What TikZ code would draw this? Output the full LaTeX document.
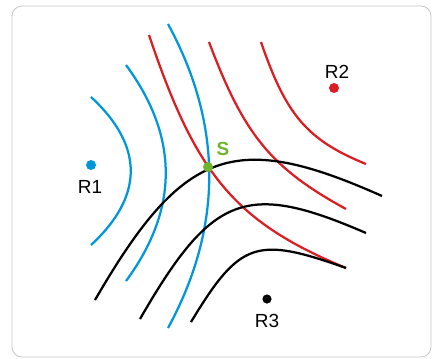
\documentclass[tikz,border=0pt]{standalone}
\usepackage{fontspec}
\setmainfont{Liberation Sans}
\definecolor{lineblue}{RGB}{0,150,220}
\definecolor{linered}{RGB}{220,30,35}
\definecolor{pointgreen}{RGB}{110,182,45}
\begin{document}
\begin{tikzpicture}[x=0.025cm, y=-0.025cm, line width=1.6pt,
  dot/.style={circle, inner sep=0pt, minimum size=0.25cm},
  lbl/.style={inner sep=0pt, font=\fontsize{13.5}{16}\selectfont}]
  \useasboundingbox (0,0) rectangle (433,358);
  \draw[line width=0.6pt, gray!45, rounded corners=0.25cm] (12,6) rectangle (431,357);
  % blue lines around R1
  \draw[lineblue] (91,97) .. controls (144,146) and (144,196) .. (91,245);
  \draw[lineblue] (126,65) .. controls (179,137) and (179,209) .. (126,281);
  \draw[lineblue] (168,24) .. controls (223,125) and (223,227) .. (168,328);
  % red lines around R2
  \draw[linered] (149,35) .. controls (196,175) and (235,222) .. (346,268);
  \draw[linered] (209,42) .. controls (244,135) and (271,168) .. (346,209);
  \draw[linered] (261,42) .. controls (286,115) and (307,140) .. (366,164);
  % black lines around R3
  \draw (95,300) .. controls (183,148) and (234,130) .. (382,196);
  \draw (140,319) .. controls (212,194) and (246,181) .. (366,233);
  \draw (191,322) .. controls (240,241) and (256,236) .. (346,268);
  % stations and solution
  \node[dot, fill=lineblue] (r1) at (91,165) {};
  \node[lbl] (r1lbl) at (90,187) {R1};
  \node[dot, fill=linered] (r2) at (334,88) {};
  \node[lbl] (r2lbl) at (337,72) {R2};
  \node[dot, fill=black, minimum size=0.23cm] (r3) at (267,299) {};
  \node[lbl] (r3lbl) at (267,321) {R3};
  \node[dot, fill=pointgreen] (s) at (208,167) {};
  \node[lbl, text=pointgreen, font=\fontsize{13.5}{16}\selectfont\bfseries] (slbl) at (223,149) {S};
\end{tikzpicture}
\end{document}
